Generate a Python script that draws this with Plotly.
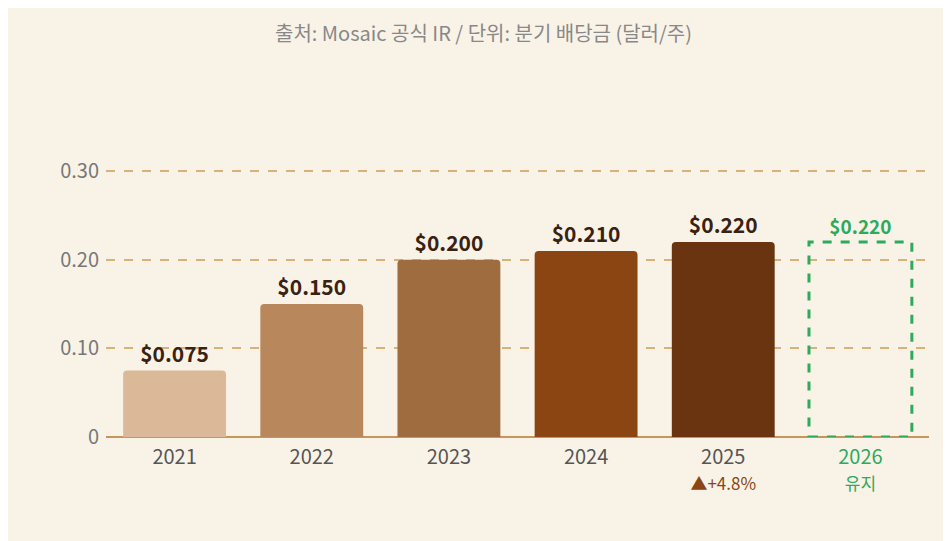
import plotly.graph_objects as go

years = ["2021", "2022", "2023", "2024", "2025", "2026"]
dividends = [0.075, 0.150, 0.200, 0.210, 0.220, 0.220]
bar_colors = ["#dbb898", "#b8875c", "#9e6c3e", "#8b4513", "#6b3410", "rgba(0,0,0,0)"]
tick_labels = [
    "2021", "2022", "2023", "2024",
    "2025<br><span style='color:#8b4513;font-size:17px'>▲+4.8%</span>",
    "<span style='color:#2eaa5c'>2026<br><span style='font-size:17px'>유지</span></span>",
]
label_colors = ["#3a2210"] * 5 + ["#2eaa5c"]
bar_width = 0.75

fig = go.Figure(go.Bar(
    x=years, y=dividends, width=bar_width,
    marker=dict(color=bar_colors, cornerradius=4, line_width=0),
    text=[f"<b>${v:.3f}</b>" for v in dividends], textposition="outside",
    textfont=dict(color=label_colors, size=[21] * 5 + [19], family="Noto Sans CJK KR"),
    cliponaxis=False,
))

# 2026 projected bar: dashed outline
i = years.index("2026")
fig.add_shape(type="rect", xref="x", yref="y",
              x0=i - bar_width / 2, x1=i + bar_width / 2, y0=0, y1=dividends[i],
              line=dict(color="#2eaa5c", width=3, dash="dash"))

fig.update_layout(
    width=951, height=541,
    paper_bgcolor="#f9f3e7", plot_bgcolor="#f9f3e7",
    font=dict(family="Noto Sans CJK KR", color="#666"),
    title=dict(text="출처: Mosaic 공식 IR / 단위: 분기 배당금 (달러/주)",
               x=0.5, y=0.965, xanchor="center", font=dict(size=20, color="#888")),
    margin=dict(l=98, r=30, t=48, b=112),
    showlegend=False,
)
fig.update_yaxes(range=[0, 0.43], tickvals=[0, 0.1, 0.2, 0.3],
                 ticktext=["0", "0.10", "0.20", "0.30"],
                 tickfont=dict(size=20, color="#777"),
                 gridcolor="#d9b27a", griddash="dash", gridwidth=2,
                 zeroline=True, zerolinecolor="#c8965a", zerolinewidth=2,
                 ticks="", ticklabelstandoff=6)
fig.update_xaxes(tickvals=years, ticktext=tick_labels,
                 tickfont=dict(size=20, color="#555"), showgrid=False,
                 ticks="", ticklabelstandoff=6)

fig.write_html("out.html")
